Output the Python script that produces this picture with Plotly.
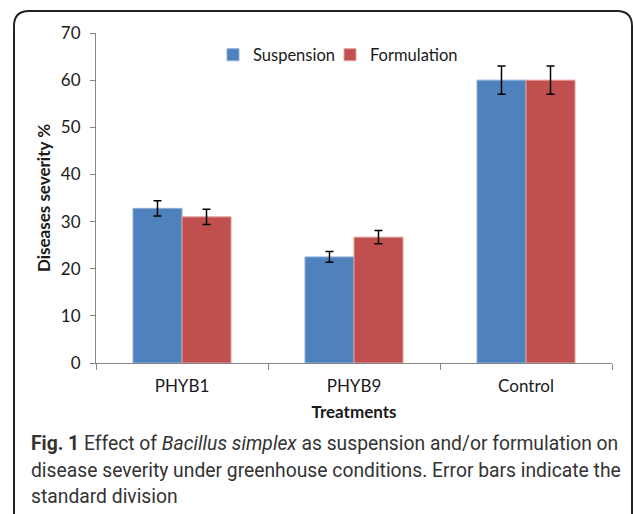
import plotly.graph_objects as go

categories = ["PHYB1", "PHYB9", "Control"]
suspension = [32.8, 22.5, 60.0]
suspension_err = [1.6, 1.15, 3.0]
formulation = [31.0, 26.7, 60.0]
formulation_err = [1.6, 1.4, 3.0]
y_ticks = [0, 10, 20, 30, 40, 50, 60, 70]

W, H = 633, 514
L, R, T, B = 96, 21, 33, 151
PW, PH = W - L - R, H - T - B

def px(x):
    return (x - L) / PW

def py(y):
    return 1 - (y - T) / PH

FONT = "Lato, 'Open Sans', sans-serif"
CAP_FONT = "Roboto, 'Open Sans', sans-serif"

fig = go.Figure()
fig.add_trace(go.Bar(
    name="Suspension", x=categories, y=suspension, legend="legend",
    marker=dict(color="#4F81BD", line=dict(color="#8fb0dc", width=1)),
    error_y=dict(type="data", array=suspension_err, color="black", thickness=1.5, width=4),
))
fig.add_trace(go.Bar(
    name="Formulation", x=categories, y=formulation, legend="legend2",
    marker=dict(color="#C0504D", line=dict(color="#e0a0a0", width=1)),
    error_y=dict(type="data", array=formulation_err, color="black", thickness=1.5, width=4),
))

legend_style = dict(orientation="h", xanchor="left", yanchor="middle",
                    font=dict(family=FONT, size=16.5, color="#1a1a1a"),
                    bgcolor="rgba(0,0,0,0)", borderwidth=0)

fig.update_layout(
    width=W, height=H,
    margin=dict(l=L, r=R, t=T, b=B, autoexpand=False),
    paper_bgcolor="white", plot_bgcolor="white",
    barmode="group", bargap=0.43, bargroupgap=0,
    font=dict(family=FONT, size=17, color="#1a1a1a"),
    showlegend=True,
    legend=dict(x=px(213), y=py(55), **legend_style),
    legend2=dict(x=px(330), y=py(55), **legend_style),
    xaxis=dict(
        showline=True, linecolor="#868686", linewidth=1,
        ticks="outside", ticklen=6, tickcolor="#868686", tickson="boundaries",
        showgrid=False, tickfont=dict(family=FONT, size=17, color="#1a1a1a"),
        ticklabelstandoff=8,
        title=dict(text="<b>Treatments</b>", font=dict(family=FONT, size=17, color="#1a1a1a"), standoff=10),
        automargin=False,
    ),
    yaxis=dict(
        range=[0, 70], tickvals=y_ticks, showline=True, linecolor="#868686", linewidth=1,
        ticks="outside", ticklen=5, tickcolor="#868686", showgrid=False, zeroline=False,
        tickfont=dict(family=FONT, size=17, color="#1a1a1a"), ticklabelstandoff=6,
        title=dict(text="<b>Diseases severity %</b>", font=dict(family=FONT, size=17, color="#1a1a1a"), standoff=5),
        automargin=False,
    ),
)

# rounded frame around the figure
x0, x1 = px(14), px(632)
yt, yb = py(11), py(540)
dx, dy = 15 / PW, 15 / PH
path = (f"M {x0},{yb} L {x0},{yt - dy} Q {x0},{yt} {x0 + dx},{yt} "
        f"L {x1 - dx},{yt} Q {x1},{yt} {x1},{yt - dy} L {x1},{yb}")
fig.add_shape(type="path", path=path, xref="paper", yref="paper",
              line=dict(color="#222222", width=2))

caption_lines = [
    "<b>Fig. 1</b> Effect of <i>Bacillus simplex</i> as suspension and/or formulation on",
    "disease severity under greenhouse conditions. Error bars indicate the",
    "standard division",
]
caption_y = [443, 470, 496]
for text, yy in zip(caption_lines, caption_y):
    fig.add_annotation(text=text, xref="paper", yref="paper", x=px(29), y=py(yy),
                       xanchor="left", yanchor="middle", showarrow=False,
                       font=dict(family=CAP_FONT, size=19.3, color="#333333"))

fig.write_html("out.html", config={"displayModeBar": False},
               post_script="document.body.style.margin='0';document.body.style.padding='0';")
